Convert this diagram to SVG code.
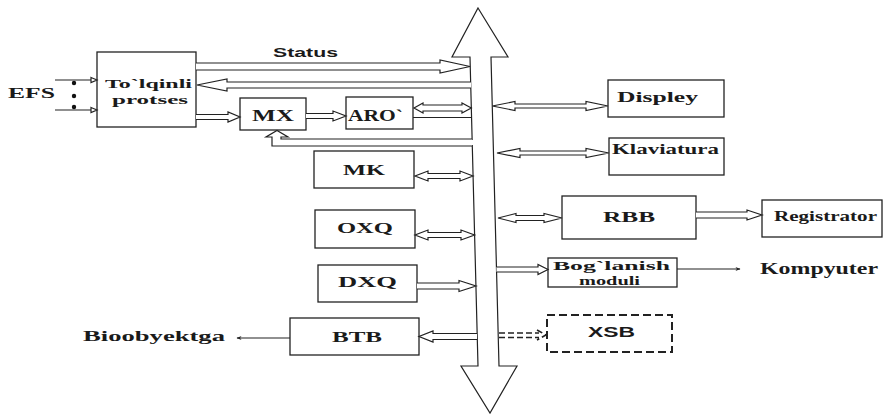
<svg xmlns="http://www.w3.org/2000/svg" width="885" height="416" viewBox="0 0 885 416">
<style>
.box{fill:#fff;stroke:#222;stroke-width:1.3}
.dbox{fill:none;stroke:#222;stroke-width:2;stroke-dasharray:8 4}
.ha{fill:#fff;stroke:#222;stroke-width:1.2;stroke-linejoin:miter}
.dh{fill:none;stroke:#222;stroke-width:1.6;stroke-dasharray:6 3}
.ln{fill:none;stroke:#222;stroke-width:1.2}
.t{font-family:"Liberation Serif","Times New Roman",serif;font-weight:bold;fill:#1a1a1a}
.s{font-family:"Liberation Sans",Arial,sans-serif;font-weight:bold;fill:#1a1a1a}
</style>
<defs>
<marker id="sm" viewBox="0 0 10 10" refX="9" refY="5" markerWidth="7" markerHeight="5" orient="auto" markerUnits="userSpaceOnUse">
<path d="M0,1 L10,5 L0,9 L3,5 Z" fill="#222"/>
</marker>
</defs>
<rect width="885" height="416" fill="#fff"/>

<g id="bus">
<path class="ha" d="M478,8 L508,57 L491,57 L499,366 L517,366 L490,413 L461,366 L478,366 L470,57 L452,57 Z"/>
</g>

<g id="efs">
<text class="t" x="8" y="98" font-size="15" textLength="47" lengthAdjust="spacingAndGlyphs">EFS</text>
<circle cx="74" cy="83" r="2.2" fill="#111"/>
<circle cx="74" cy="96" r="2.2" fill="#111"/>
<circle cx="74" cy="107" r="2.2" fill="#111"/>
</g>

<g id="tolqinli">
<rect class="box" x="97" y="52" width="99" height="75"/>
<text class="t" x="105" y="88" font-size="13" textLength="87" lengthAdjust="spacingAndGlyphs">To`lqinli</text>
<text class="t" x="112" y="104" font-size="13" textLength="76" lengthAdjust="spacingAndGlyphs">protses</text>
</g>

<g id="mx">
<rect class="box" x="240" y="98" width="66" height="32"/>
<text class="t" x="252" y="121" font-size="17" textLength="42" lengthAdjust="spacingAndGlyphs">MX</text>
</g>
<g id="aro">
<rect class="box" x="346" y="97" width="67" height="32"/>
<text class="t" x="348" y="121" font-size="17" textLength="55" lengthAdjust="spacingAndGlyphs">ARO`</text>
</g>
<g id="mk">
<rect class="box" x="314" y="151" width="100" height="37"/>
<text class="t" x="343" y="175" font-size="15" textLength="42" lengthAdjust="spacingAndGlyphs">MK</text>
</g>
<g id="oxq">
<rect class="box" x="315" y="210" width="100" height="38"/>
<text class="t" x="337" y="233" font-size="15" textLength="56" lengthAdjust="spacingAndGlyphs">OXQ</text>
</g>
<g id="dxq">
<rect class="box" x="318" y="265" width="99" height="37"/>
<text class="t" x="338" y="287" font-size="15" textLength="59" lengthAdjust="spacingAndGlyphs">DXQ</text>
</g>
<g id="btb">
<rect class="box" x="290" y="318" width="129" height="37"/>
<text class="t" x="332" y="342" font-size="15" textLength="50" lengthAdjust="spacingAndGlyphs">BTB</text>
</g>
<g id="bioobyektga">
<text class="t" x="83" y="341" font-size="15" textLength="142" lengthAdjust="spacingAndGlyphs">Bioobyektga</text>
</g>

<g id="displey">
<rect class="box" x="608" y="80" width="116" height="37"/>
<text class="t" x="617" y="102" font-size="15" textLength="81" lengthAdjust="spacingAndGlyphs">Displey</text>
</g>
<g id="klaviatura">
<rect class="box" x="609" y="138" width="115" height="37"/>
<text class="t" x="612" y="154" font-size="15" textLength="107" lengthAdjust="spacingAndGlyphs">Klaviatura</text>
</g>
<g id="rbb">
<rect class="box" x="562" y="196" width="134" height="43"/>
<text class="t" x="603" y="222" font-size="15" textLength="52" lengthAdjust="spacingAndGlyphs">RBB</text>
</g>
<g id="registrator">
<rect class="box" x="762" y="200" width="120" height="37"/>
<text class="t" x="774" y="221" font-size="14" font-weight="normal" textLength="103" lengthAdjust="spacingAndGlyphs">Registrator</text>
</g>
<g id="boglanish">
<rect class="box" x="548" y="258" width="129" height="29"/>
<text class="t" x="553" y="270" font-size="12" textLength="117" lengthAdjust="spacingAndGlyphs">Bog`lanish</text>
<text class="t" x="579" y="284.5" font-size="12" textLength="61" lengthAdjust="spacingAndGlyphs">moduli</text>
</g>
<g id="kompyuter">
<text class="t" x="760" y="274" font-size="16" textLength="118" lengthAdjust="spacingAndGlyphs">Kompyuter</text>
</g>
<g id="xsb">
<rect class="dbox" x="547" y="315" width="125" height="37"/>
<text class="s" x="588" y="337" font-size="14" font-weight="normal" textLength="47" lengthAdjust="spacingAndGlyphs">XSB</text>
</g>

<g id="status-label">
<text class="s" x="273" y="57" font-size="13" textLength="65" lengthAdjust="spacingAndGlyphs">Status</text>
</g>

<g id="connectors">
<path class="ln" d="M55,80 L91,80 M55,110 L91,110"/>
<path class="ha" d="M91,77.5 L97,80 L91,82.5 Z M91,107.5 L97,110 L91,112.5 Z"/>
<path class="ha" d="M196,63 L440,63 L440,60 L470,66.5 L440,73 L440,70 L196,70"/>
<path class="ha" d="M471,82 L227,82 L227,79 L197,85 L227,91 L227,88 L471,88"/>
<path class="ha" d="M196,114.5 L228,114.5 L228,112 L240,117 L228,122 L228,119.5 L196,119.5"/>
<path class="ha" d="M306,113.5 L333,113.5 L333,111 L346,116 L333,121 L333,118.5 L306,118.5"/>
<path class="ha" d="M423,105 L462,105 L462,103 L471.3,108 L462,113 L462,111 L423,111 L423,113 L414,108 L423,103 Z"/>
<path class="ln" d="M413,117.5 L471.6,117.5" stroke-width="2.5"/>
<rect x="469" y="140" width="6" height="5" fill="#fff"/>
<path class="ha" d="M472,146 L272,146 L272,137 L266,137 L277,130.5 L288,137 L281,137 L281,139 L472,139"/>
<path class="ha" d="M428,173.5 L460,173.5 L460,171 L473,176 L460,181 L460,178.5 L428,178.5 L428,181 L415,176 L428,171 Z"/>
<path class="ha" d="M428,232.5 L461,232.5 L461,230 L474.6,235 L461,240 L461,237.5 L428,237.5 L428,240 L415,235 L428,230 Z"/>
<path class="ha" d="M417,283 L459,283 L459,280.5 L476,286 L459,291.5 L459,289 L417,289"/>
<path class="ha" d="M477,333.5 L433,333.5 L433,331 L419,336.5 L433,342 L433,339.5 L477,339.5"/>
<line class="ln" x1="290" y1="338" x2="237" y2="338" marker-end="url(#sm)"/>
<path class="ha" d="M515,104 L586,104 L586,101.5 L608,106 L586,110.5 L586,108 L515,108 L515,110.5 L492.3,106 L515,101.5 Z"/>
<path class="ha" d="M520,151 L586,151 L586,148.5 L609,153 L586,157.5 L586,155 L520,155 L520,157.5 L497,153 L520,148.5 Z"/>
<path class="ha" d="M516,215.5 L544,215.5 L544,213.5 L562,218 L544,222.5 L544,220.5 L516,220.5 L516,222.5 L498,218 L516,213.5 Z"/>
<path class="ha" d="M696,212 L747,212 L747,210 L762,215 L747,220 L747,218 L696,218"/>
<path class="ha" d="M496.5,267 L538,267 L538,264.5 L548,269.5 L538,274.5 L538,272 L496.5,272"/>
<line class="ln" x1="677" y1="269" x2="740" y2="269" marker-end="url(#sm)"/>
<path class="dh" d="M499,333 L539,333 M499,337.5 L539,337.5 M537,330 L546,335 L537,340"/>
</g>
</svg>
